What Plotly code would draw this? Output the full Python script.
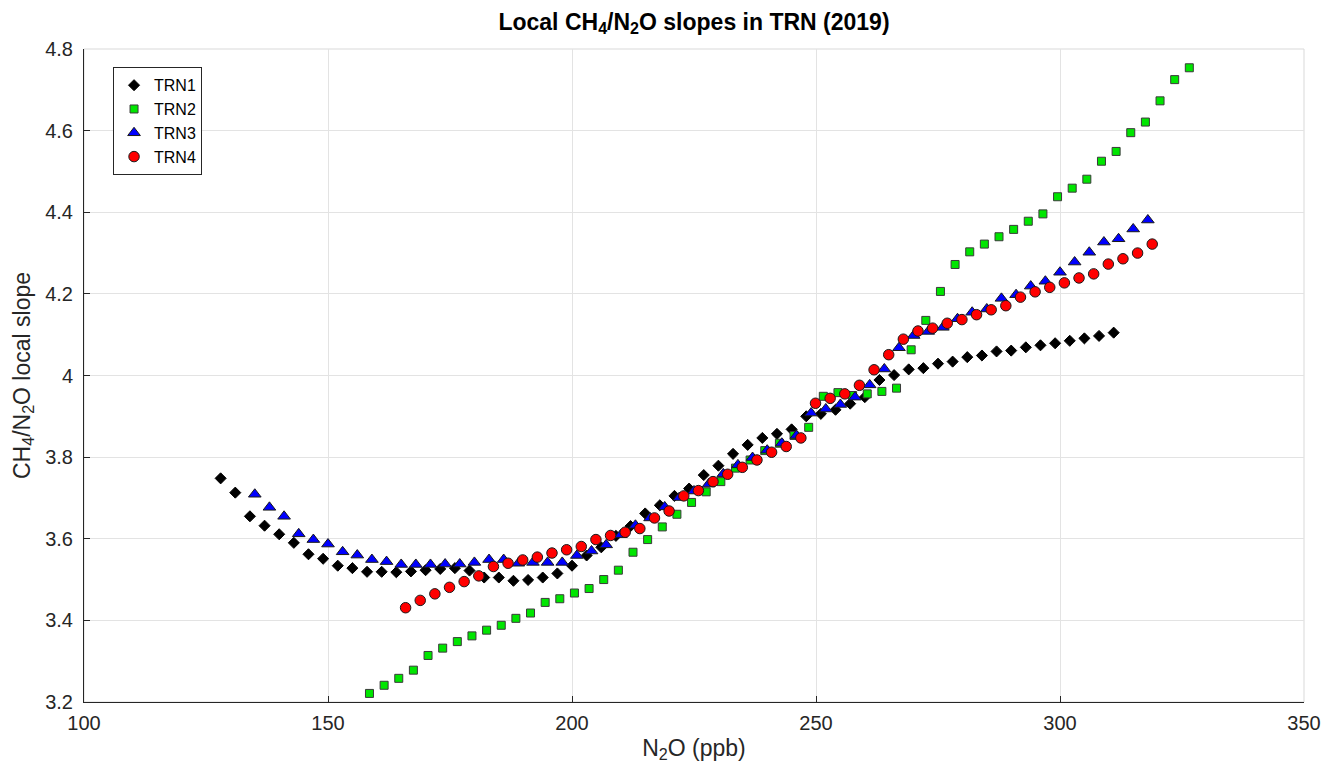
import plotly.graph_objects as go

# ---- data ----
trn1_x = [128 + 3 * i for i in range(62)]
trn1_y = [3.748, 3.713, 3.655, 3.632, 3.611, 3.590, 3.562, 3.551, 3.534, 3.528,
          3.519, 3.519, 3.518, 3.520, 3.523, 3.526, 3.528, 3.522, 3.505, 3.505,
          3.497, 3.499, 3.505, 3.515, 3.534, 3.559, 3.579, 3.607, 3.631, 3.662,
          3.682, 3.705, 3.723, 3.756, 3.779, 3.808, 3.830, 3.847, 3.857, 3.868,
          3.900, 3.906, 3.916, 3.931, 3.947, 3.989, 4.001, 4.015, 4.018, 4.029,
          4.034, 4.045, 4.049, 4.059, 4.061, 4.069, 4.074, 4.079, 4.085, 4.091,
          4.097, 4.105]

trn2_x = [158.5 + 3 * i for i in range(57)]
trn2_y = [3.221, 3.241, 3.258, 3.278, 3.314, 3.332, 3.348, 3.362, 3.376, 3.388,
          3.405, 3.418, 3.444, 3.453, 3.467, 3.478, 3.500, 3.523, 3.567, 3.598,
          3.629, 3.660, 3.689, 3.715, 3.740, 3.773, 3.793, 3.816, 3.834, 3.853,
          3.873, 3.949, 3.958, 3.951, 3.955, 3.961, 3.969, 4.063, 4.135, 4.206,
          4.272, 4.303, 4.322, 4.340, 4.358, 4.378, 4.396, 4.438, 4.459, 4.481,
          4.525, 4.549, 4.595, 4.621, 4.673, 4.725, 4.754]

trn3_x = [135 + 3 * i for i in range(62)]
trn3_y = [3.709, 3.677, 3.655, 3.612, 3.598, 3.587, 3.568, 3.560, 3.549, 3.544,
          3.537, 3.537, 3.537, 3.538, 3.538, 3.542, 3.549, 3.549, 3.540, 3.542,
          3.542, 3.542, 3.559, 3.570, 3.585, 3.610, 3.633, 3.651, 3.678, 3.701,
          3.717, 3.734, 3.759, 3.781, 3.799, 3.817, 3.834, 3.853, 3.908, 3.918,
          3.929, 3.947, 3.977, 4.016, 4.068, 4.098, 4.108, 4.118, 4.139, 4.155,
          4.163, 4.189, 4.198, 4.219, 4.231, 4.253, 4.278, 4.302, 4.327, 4.335,
          4.359, 4.381]

trn4_x = [165.9 + 3 * i for i in range(52)]
trn4_y = [3.431, 3.449, 3.465, 3.481, 3.495, 3.509, 3.532, 3.540, 3.548, 3.555,
          3.565, 3.573, 3.581, 3.598, 3.608, 3.616, 3.625, 3.651, 3.668, 3.705,
          3.718, 3.740, 3.758, 3.775, 3.793, 3.812, 3.826, 3.847, 3.932, 3.944,
          3.955, 3.976, 4.014, 4.051, 4.089, 4.109, 4.116, 4.128, 4.137, 4.149,
          4.161, 4.171, 4.192, 4.205, 4.216, 4.227, 4.239, 4.249, 4.273, 4.286,
          4.300, 4.322]

x_ticks = [100, 150, 200, 250, 300, 350]
y_ticks = [3.2, 3.4, 3.6, 3.8, 4.0, 4.2, 4.4, 4.6, 4.8]
y_tick_text = ["3.2", "3.4", "3.6", "3.8", "4", "4.2", "4.4", "4.6", "4.8"]

FONT = "Liberation Sans, Arial, Helvetica, sans-serif"
TXT = "#262626"

fig = go.Figure()
fig.add_trace(go.Scatter(x=trn1_x, y=trn1_y, mode="markers", name="TRN1",
                         marker=dict(symbol="diamond", size=8.5, color="black",
                                     line=dict(color="black", width=1))))
fig.add_trace(go.Scatter(x=trn2_x, y=trn2_y, mode="markers", name="TRN2",
                         marker=dict(symbol="square", size=8, color="#00e600",
                                     line=dict(color="#3a3a3a", width=1))))
fig.add_trace(go.Scatter(x=trn3_x, y=trn3_y, mode="markers", name="TRN3",
                         marker=dict(symbol="triangle-up", size=11, color="#0000ff",
                                     line=dict(color="#1a1a1a", width=1))))
fig.add_trace(go.Scatter(x=trn4_x, y=trn4_y, mode="markers", name="TRN4",
                         marker=dict(symbol="circle", size=10.5, color="#ff0000",
                                     line=dict(color="#1a1a1a", width=1))))

fig.update_layout(
    width=1325, height=769,
    margin=dict(l=84, r=21, t=49, b=67, autoexpand=False),
    paper_bgcolor="white", plot_bgcolor="white",
    font=dict(family=FONT, color=TXT, size=20),
    title=dict(text="<b>Local CH<sub>4</sub>/N<sub>2</sub>O slopes in TRN (2019)</b>",
               x=0.5, xref="paper", xanchor="center", y=0.972, yanchor="middle",
               font=dict(family=FONT, size=23, color="black")),
    showlegend=True,
    legend=dict(x=0.0238, y=0.972, xanchor="left", yanchor="top",
                bgcolor="white", bordercolor="#262626", borderwidth=1,
                font=dict(family=FONT, size=16, color="black"),
                tracegroupgap=0, itemsizing="trace", itemwidth=30),
    xaxis=dict(range=[100, 350], tickmode="array", tickvals=x_ticks,
               showgrid=True, gridcolor="#e3e3e3", gridwidth=1,
               showline=True, linecolor=TXT, linewidth=1,
               ticks="inside", ticklen=6, tickcolor=TXT,
               zeroline=False, ticklabelstandoff=3, automargin=False,
               tickfont=dict(size=20, color=TXT),
               title=dict(text="N<sub>2</sub>O (ppb)", standoff=6,
                          font=dict(size=23, color=TXT))),
    yaxis=dict(range=[3.2, 4.8], tickmode="array", tickvals=y_ticks,
               ticktext=y_tick_text,
               showgrid=True, gridcolor="#e3e3e3", gridwidth=1,
               showline=True, linecolor=TXT, linewidth=1,
               ticks="inside", ticklen=6, tickcolor=TXT,
               zeroline=False, ticklabelstandoff=6, automargin=False,
               tickfont=dict(size=20, color=TXT),
               title=dict(text="CH<sub>4</sub>/N<sub>2</sub>O local slope", standoff=8,
                          font=dict(size=23, color=TXT))),
)

# light box on top/right, as in the reference
fig.add_shape(type="rect", xref="paper", yref="paper", x0=0, y0=0, x1=1, y1=1,
              line=dict(color="#d9d9d9", width=1), layer="below")

fig.write_html("out.html")
